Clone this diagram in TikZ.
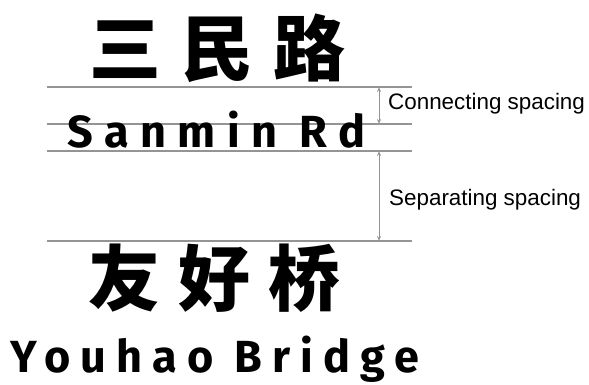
\documentclass[tikz,border=0pt]{standalone}
\usetikzlibrary{arrows.meta}
\usepackage{fontspec}
\setmainfont{Liberation Sans}
\newfontfamily\cjkfont{Noto Sans CJK SC}[LetterSpace=28]
\newfontfamily\cjkfontb{Noto Sans CJK SC}[LetterSpace=25]
\newfontfamily\dinA{Fira Sans}[LetterSpace=25.5]
\newfontfamily\dinB{Fira Sans}[LetterSpace=22.5]
\begin{document}
\begin{tikzpicture}[x=1pt,y=-1pt,
  guide/.style={draw=black!42,line width=1.4pt},
  dim/.style={draw=black!42,line width=0.9pt,{Stealth[length=5pt,width=4pt,open]}-{Stealth[length=5pt,width=4pt,open]}},
  lbl/.style={anchor=base west,inner sep=0pt,font=\fontsize{22.4}{22.4}\selectfont},
  big/.style={anchor=base west,inner sep=0pt}]
\useasboundingbox (0,0) rectangle (589,385);
% guide lines
\coordinate (l1a) at (47,87);  \coordinate (l1b) at (412,87);
\coordinate (l2a) at (47,124); \coordinate (l2b) at (412,124);
\coordinate (l3a) at (47,151); \coordinate (l3b) at (412,151);
\coordinate (l4a) at (47,241); \coordinate (l4b) at (412,241);
\draw[guide] (l1a) -- (l1b);
\draw[guide] (l2a) -- (l2b);
\draw[guide] (l3a) -- (l3b);
\draw[guide] (l4a) -- (l4b);
% dimension arrows
\coordinate (d1a) at (379,87);  \coordinate (d1b) at (379,124);
\coordinate (d2a) at (379,151); \coordinate (d2b) at (379,241);
\draw[dim] (d1a) -- (d1b);
\draw[dim] (d2a) -- (d2b);
\node[lbl] (conn) at (388,110) {Connecting spacing};
\node[lbl] (sep) at (389,205) {Separating spacing};
% texts
\node[big,font=\cjkfont\bfseries\fontsize{72}{72}\selectfont] (zh1) at (89,76) {三民路};
\node[big,font=\dinA\bfseries\fontsize{45}{45}\selectfont] (en1) at (67,147) {Sanmin Rd};
\node[big,font=\cjkfontb\bfseries\fontsize{72}{72}\selectfont] (zh2) at (88,305) {友好桥};
\node[big,font=\dinB\bfseries\fontsize{45}{45}\selectfont] (en2) at (10,372) {Youhao Bridge};
\end{tikzpicture}
\end{document}
